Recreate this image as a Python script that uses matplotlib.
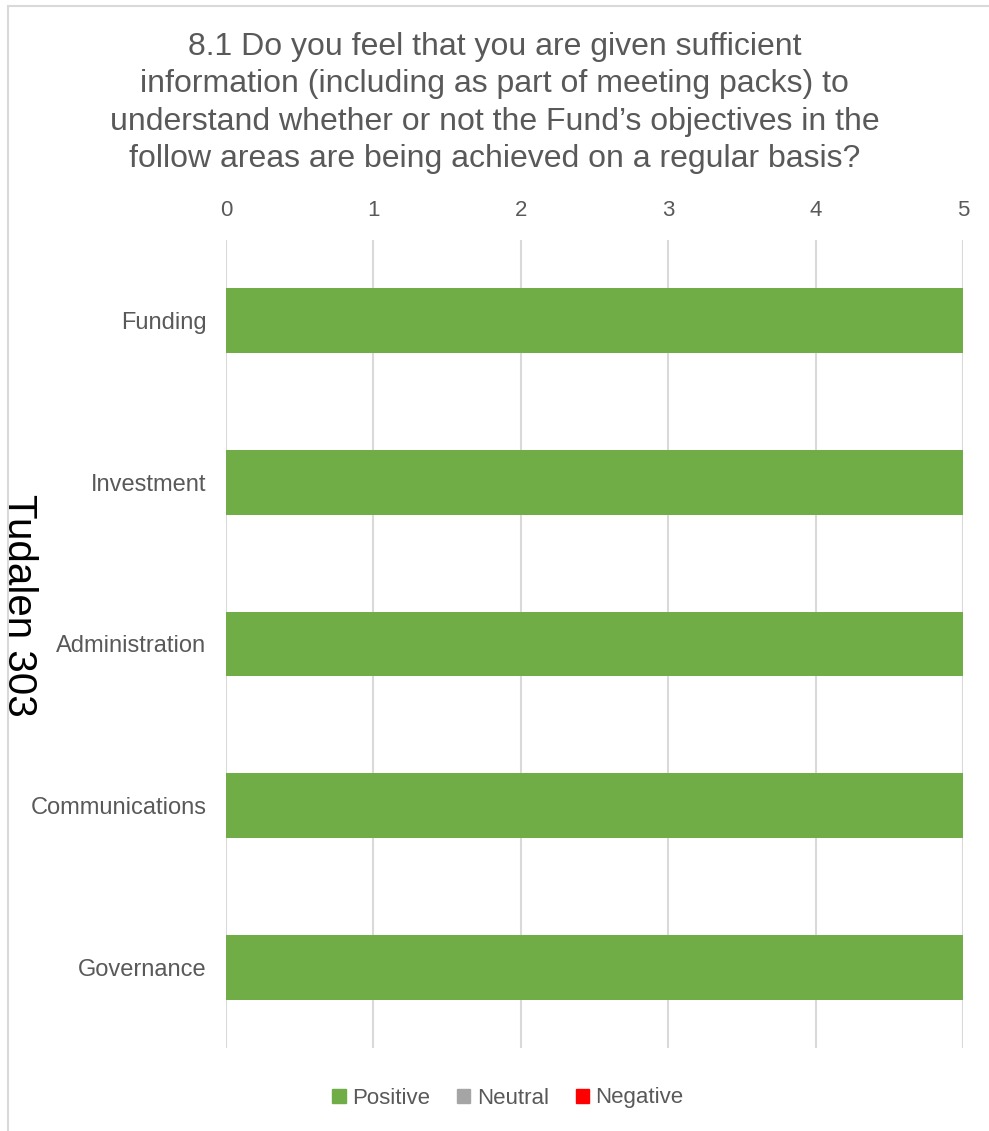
import matplotlib.pyplot as plt
from matplotlib.patches import Rectangle, Patch

categories = ["Funding", "Investment", "Administration", "Communications", "Governance"]
positive = [5, 5, 5, 5, 5]
neutral = [0, 0, 0, 0, 0]
negative = [0, 0, 0, 0, 0]
x_ticks = [0, 1, 2, 3, 4, 5]

title = ("8.1 Do you feel that you are given sufficient\n"
         "information (including as part of meeting packs) to\n"
         "understand whether or not the Fund\u2019s objectives in the\n"
         "follow areas are being achieved on a regular basis?")

plt.rcParams['font.family'] = ['Liberation Sans', 'DejaVu Sans']

W, H = 989, 1131
fig = plt.figure(figsize=(W / 100, H / 100), dpi=100)

# chart frame
fig.patches.append(Rectangle((8 / W, -0.1), 1.2, 1 - 6 / H + 0.1, transform=fig.transFigure,
                             fill=False, edgecolor="#d9d9d9", linewidth=1.5))

ax = fig.add_axes([226 / W, 1 - 1048 / H, (963 - 226) / W, (1048 - 240) / H])
y = list(range(len(categories)))
ax.barh(y, positive, height=0.4, color="#70ad47", label="Positive", zorder=3)
ax.barh(y, neutral, left=positive, height=0.4, color="#a5a5a5", label="Neutral", zorder=3)
ax.barh(y, negative, left=[p + n for p, n in zip(positive, neutral)], height=0.4,
        color="#ff0000", label="Negative", zorder=3)

ax.set_xlim(0, 5)
ax.set_ylim(len(categories) - 0.5, -0.5)
ax.set_xticks(x_ticks)
ax.set_yticks(y)
ax.set_yticklabels(categories)
ax.xaxis.tick_top()
ax.tick_params(axis="y", length=0, labelsize=17, colors="#595959", pad=14)
ax.tick_params(axis="x", length=0, labelsize=16, colors="#595959", pad=14)
ax.grid(axis="x", color="#d9d9d9", linewidth=1.5, zorder=0)
for s in ax.spines.values():
    s.set_visible(False)

fig.text(0.5, 1 - 103 / H, title, ha="center", va="center", fontsize=23,
         color="#595959", linespacing=1.32)

fig.text(0.0, 1 - 605 / H, "Tudalen 303", rotation=270, ha="left", va="center",
         fontsize=29, color="black")

handles = [Patch(color="#70ad47", label="Positive"),
           Patch(color="#a5a5a5", label="Neutral"),
           Patch(color="#ff0000", label="Negative")]
fig.legend(handles=handles, loc="center", bbox_to_anchor=(508 / W, 1 - 1098 / H), ncol=3,
           frameon=False, fontsize=16, handlelength=0.6, handleheight=0.6,
           handletextpad=0.3, columnspacing=1.2, labelcolor="#595959")

fig.savefig("out.png", dpi=100)
